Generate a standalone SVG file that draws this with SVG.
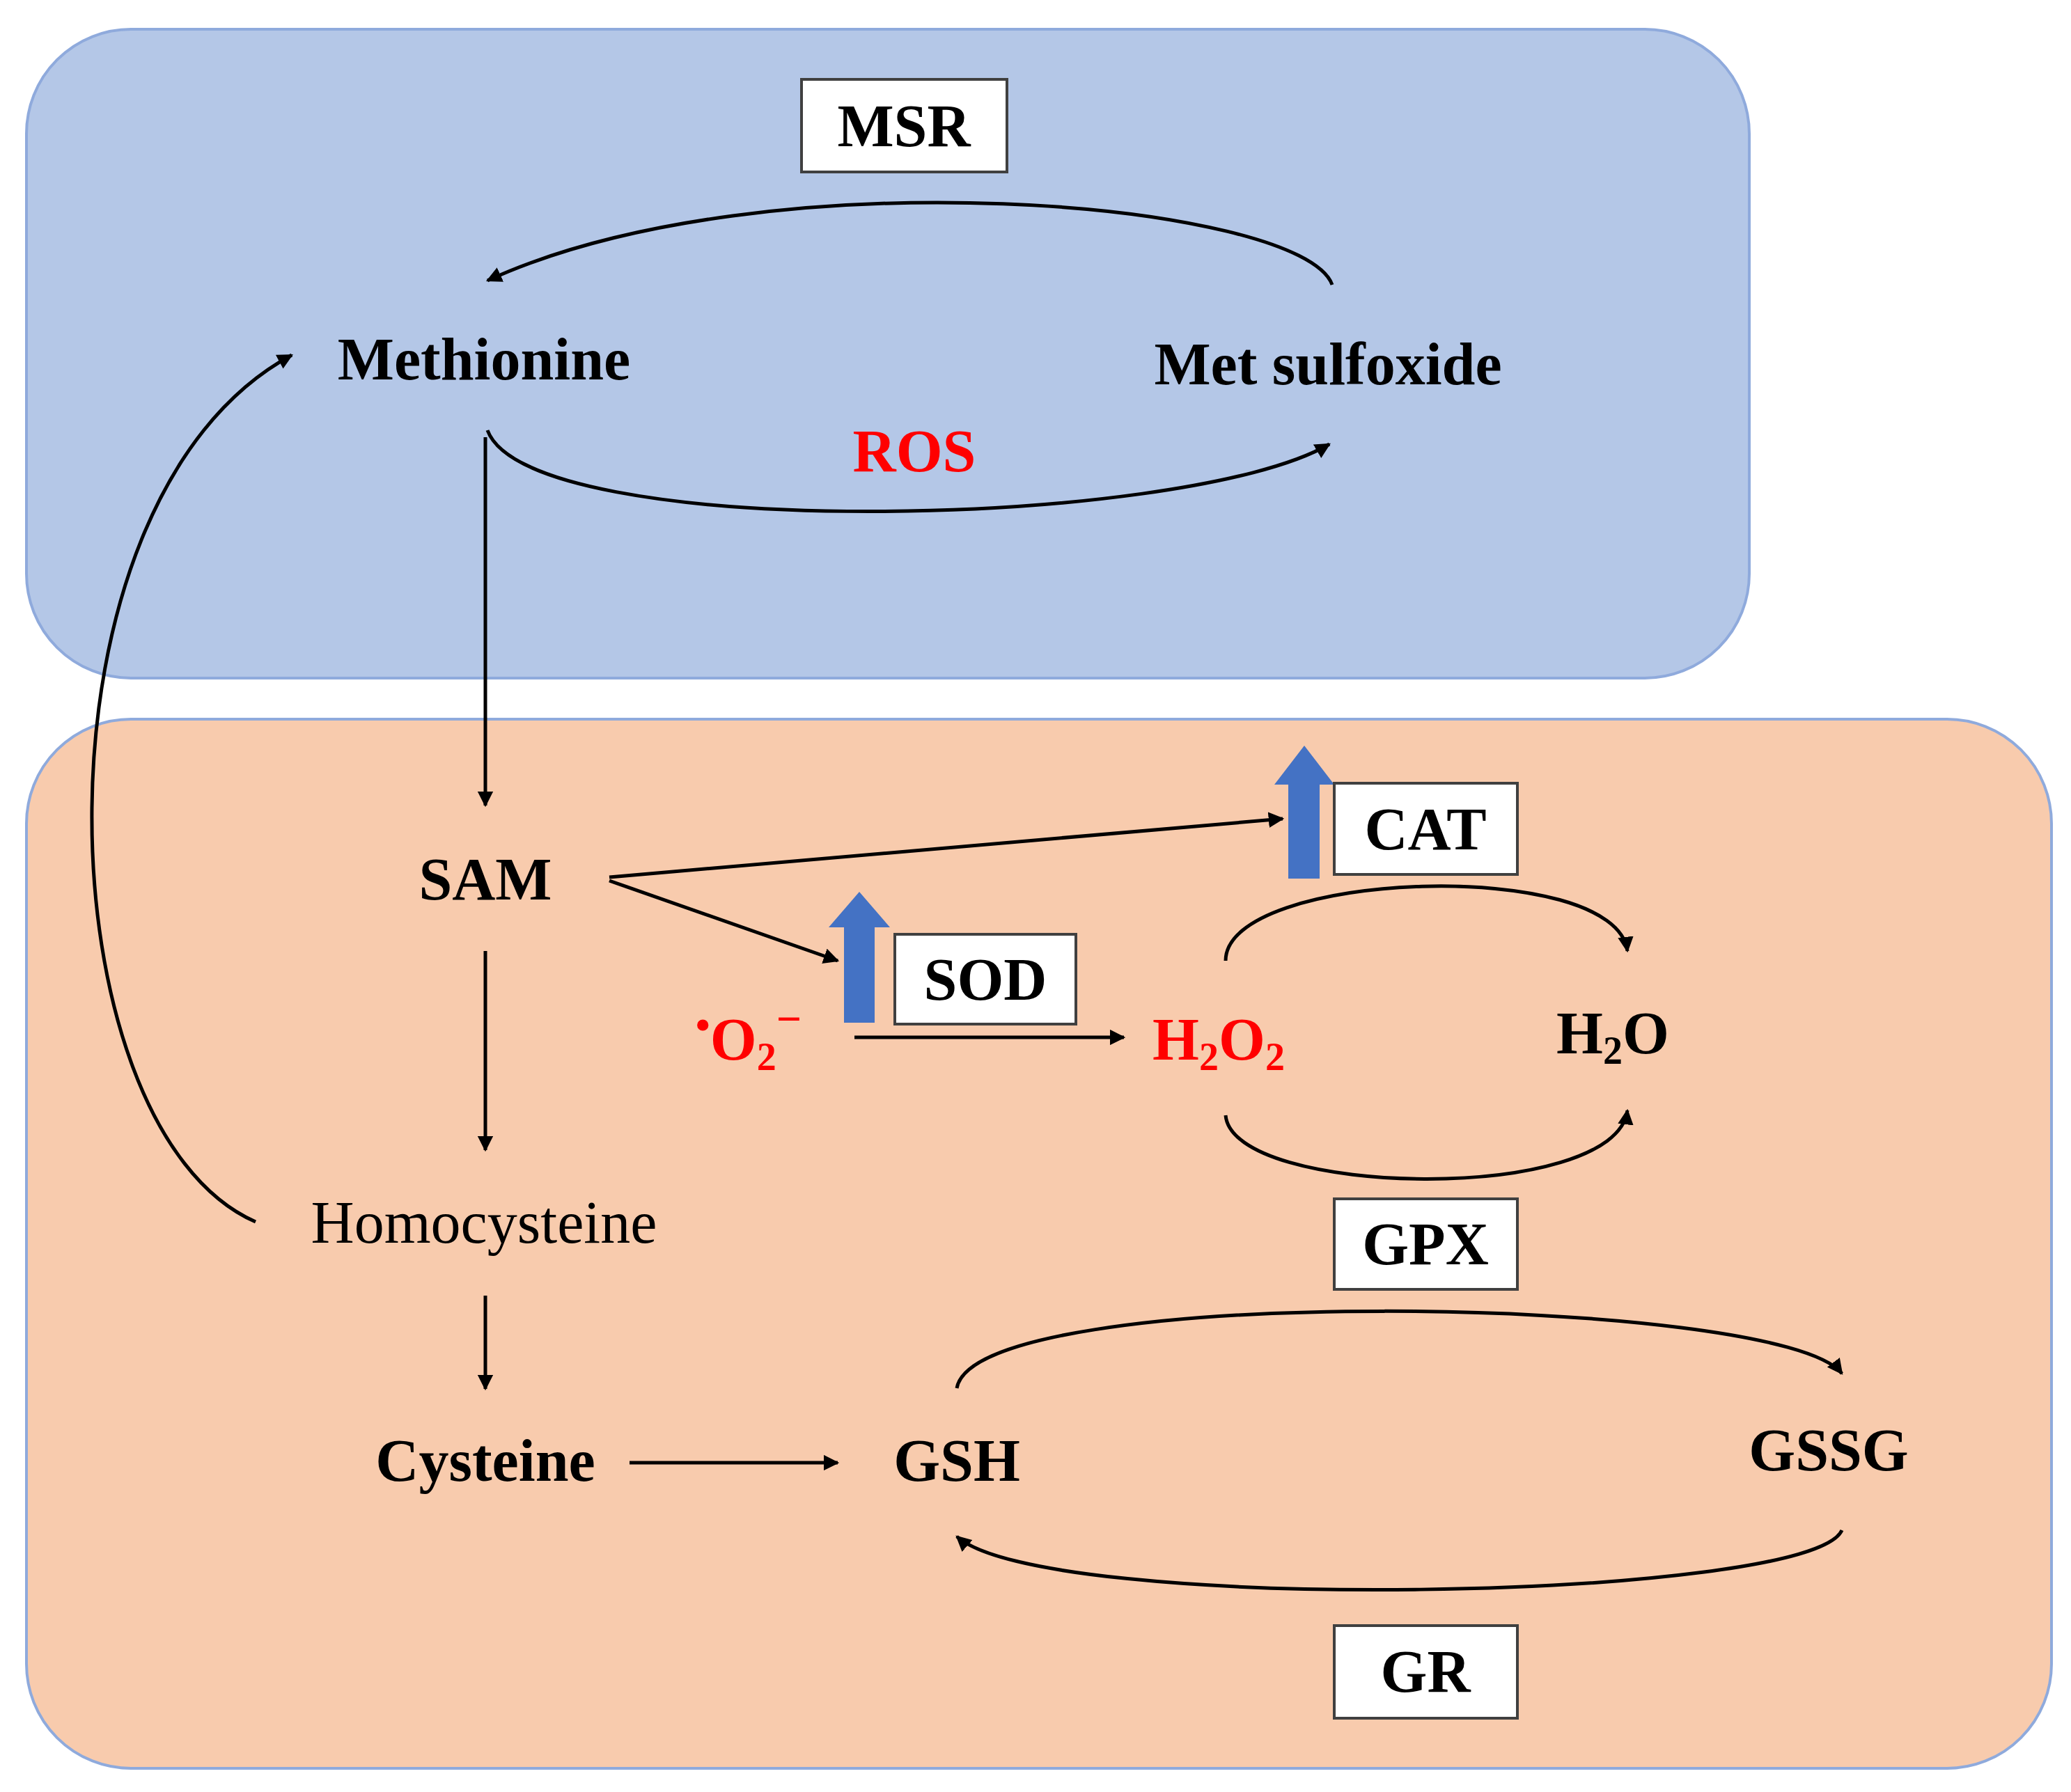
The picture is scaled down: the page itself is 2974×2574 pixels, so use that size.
<svg xmlns="http://www.w3.org/2000/svg" width="2974" height="2574" viewBox="0 0 2974 2574">
<defs>
<style>
text{font-family:"Liberation Serif","Times New Roman",serif;font-weight:bold;font-size:86px;text-anchor:middle;fill:#000}
.red{fill:#ff0000}
.norm{font-weight:normal}
.c{fill:none;stroke:#000;stroke-width:5;marker-end:url(#ah)}
.box{fill:#fff;stroke:#404040;stroke-width:4}
.up{fill:#4472c4}
</style>
<marker id="ah" viewBox="0 0 10 10" refX="9" refY="5" markerWidth="4.5" markerHeight="4.5" orient="auto" markerUnits="strokeWidth"><path d="M0,0L10,5L0,10z" fill="#000"/></marker>
</defs>
<rect width="2974" height="2574" fill="#fff"/>
<g id="regions">
<rect x="38" y="42" width="2474" height="932" rx="150" fill="#b4c7e7" stroke="#8faadc" stroke-width="4"/>
<rect x="38" y="1033" width="2908" height="1507" rx="150" fill="#f8cbad" stroke="#8faadc" stroke-width="4"/>
</g>
<g id="connectors">
<path class="c" d="M1913,409 C1870,290 1100,220 700,403"/>
<path class="c" d="M700,618 C760,780 1700,760 1909,638"/>
<path class="c" d="M697,628 L697,1157"/>
<path class="c" d="M875,1260 L1842,1176"/>
<path class="c" d="M875,1265 L1203,1380"/>
<path class="c" d="M1227,1490 L1614,1490"/>
<path class="c" d="M1760,1380 C1760,1250 2320,1230 2337,1366"/>
<path class="c" d="M1760,1602 C1770,1720 2320,1730 2337,1595"/>
<path class="c" d="M697,1366 L697,1652"/>
<path class="c" d="M367,1755 C60,1620 30,720 419,510"/>
<path class="c" d="M697,1861 L697,1995"/>
<path class="c" d="M904,2101 L1203,2101"/>
<path class="c" d="M1374,1994 C1400,1840 2560,1860 2645,1973"/>
<path class="c" d="M2645,2198 C2600,2300 1500,2320 1374,2207"/>
</g>
<g id="up-arrows">
<path class="up" d="M1212,1469 L1212,1332 L1190,1332 L1234,1281 L1278,1332 L1256,1332 L1256,1469 Z"/>
<path class="up" d="M1850,1262 L1850,1127 L1830,1127 L1873,1071 L1916,1127 L1895,1127 L1895,1262 Z"/>
</g>
<g id="MSR"><rect class="box" x="1151" y="114" width="295" height="133"/><text x="1298" y="210">MSR</text></g>
<g id="SOD"><rect class="box" x="1285" y="1342" width="260" height="129"/><text x="1415" y="1436">SOD</text></g>
<g id="CAT"><rect class="box" x="1916" y="1125" width="263" height="131"/><text x="2047" y="1220">CAT</text></g>
<g id="GPX"><rect class="box" x="1916" y="1722" width="263" height="130"/><text x="2047" y="1816">GPX</text></g>
<g id="GR"><rect class="box" x="1916" y="2335" width="263" height="133"/><text x="2047" y="2430">GR</text></g>
<g id="Methionine"><text x="695" y="545">Methionine</text></g>
<g id="MetSulfoxide"><text x="1907" y="552">Met sulfoxide</text></g>
<g id="ROS"><text class="red" x="1313" y="677">ROS</text></g>
<g id="SAM"><text x="697" y="1292">SAM</text></g>
<g id="O2"><text class="red" x="1075" y="1522"><tspan font-size="60" dy="-30">•</tspan><tspan dy="30">O</tspan><tspan font-size="56" dy="15">2</tspan><tspan font-size="64" dy="-52">−</tspan></text></g>
<g id="H2O2"><text class="red" x="1750" y="1522">H<tspan font-size="56" dy="15">2</tspan><tspan dy="-15">O</tspan><tspan font-size="56" dy="15">2</tspan></text></g>
<g id="H2O"><text x="2316" y="1513">H<tspan font-size="56" dy="15">2</tspan><tspan dy="-15">O</tspan></text></g>
<g id="Homocysteine"><text class="norm" x="695" y="1785">Homocysteine</text></g>
<g id="Cysteine"><text x="697" y="2127">Cysteine</text></g>
<g id="GSH"><text x="1374" y="2127">GSH</text></g>
<g id="GSSG"><text x="2626" y="2112">GSSG</text></g>
</svg>
